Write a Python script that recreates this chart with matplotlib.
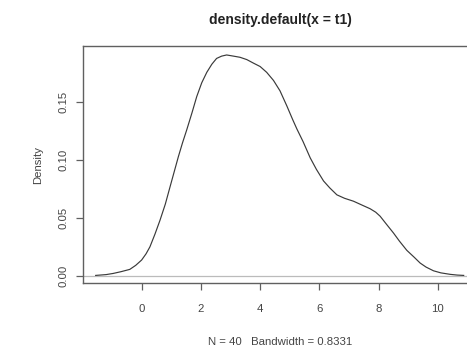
import matplotlib
matplotlib.use("Agg")
import matplotlib.pyplot as plt

# density estimate (x, density)
dens_x = [-1.55, -1.2, -0.96, -0.7, -0.40, -0.2, 0.0, 0.15, 0.28, 0.45, 0.62, 0.8,
          0.96, 1.1, 1.24, 1.38, 1.52, 1.7, 1.86, 2.03, 2.20, 2.37, 2.53, 2.7,
          2.87, 3.1, 3.32, 3.55, 3.77, 4.0, 4.22, 4.45, 4.67, 4.9, 5.1, 5.24,
          5.45, 5.69, 5.9, 6.14, 6.35, 6.59, 6.85, 7.15, 7.45, 7.71, 7.9, 8.05,
          8.25, 8.50, 8.7, 8.95, 9.2, 9.40, 9.6, 9.85, 10.1, 10.42, 10.65, 10.87]
dens_y = [0.0003, 0.001, 0.002, 0.0035, 0.0055, 0.009, 0.0136, 0.019, 0.025, 0.036,
          0.048, 0.062, 0.077, 0.090, 0.103, 0.115, 0.126, 0.141, 0.155, 0.167,
          0.176, 0.183, 0.188, 0.190, 0.191, 0.190, 0.189, 0.187, 0.184, 0.181,
          0.176, 0.169, 0.160, 0.147, 0.135, 0.127, 0.116, 0.102, 0.092, 0.082,
          0.076, 0.070, 0.067, 0.0645, 0.061, 0.058, 0.055, 0.0515, 0.045, 0.037,
          0.030, 0.022, 0.016, 0.011, 0.0075, 0.0043, 0.0025, 0.0012, 0.0006, 0.0003]

x_ticks = [0, 2, 4, 6, 8, 10]
y_ticks = [0.00, 0.05, 0.10, 0.15]
y_tick_labels = ["0.00", "0.05", "0.10", "0.15"]

title = "density.default(x = t1)"
x_label = "N = 40   Bandwidth = 0.8331"
y_label = "Density"

plt.rcParams["font.family"] = ["Liberation Sans", "DejaVu Sans"]
fg = "#444444"

fig = plt.figure(figsize=(4.67, 3.49), dpi=100)
ax = fig.add_axes([0.177, 0.189, 0.847, 0.679])

ax.axhline(0, color="#bbbbbb", lw=0.9)
ax.plot(dens_x, dens_y, color="#3a3a3a", lw=0.85)

ax.set_xlim(-1.99, 11.36)
ax.set_ylim(-0.0063, 0.1987)
ax.set_xticks(x_ticks)
ax.set_yticks(y_ticks)
ax.set_yticklabels(y_tick_labels, rotation=90, va="center")

for s in ax.spines.values():
    s.set_color("#606060")
    s.set_linewidth(1.0)

ax.tick_params(axis="both", direction="out", length=5, width=0.9, color="#606060",
               labelcolor=fg, labelsize=8.2)
ax.tick_params(axis="x", pad=10)
ax.tick_params(axis="y", pad=5)

ax.set_xlabel(x_label, fontsize=8.2, color=fg, labelpad=17)
ax.set_ylabel(y_label, fontsize=8.2, color=fg, labelpad=11)
fig.text(280 / 467, 1 - 20 / 349, title, ha="center", va="center",
         fontsize=10, fontweight="bold", color="#222222")

fig.savefig("out.png", dpi=100)
